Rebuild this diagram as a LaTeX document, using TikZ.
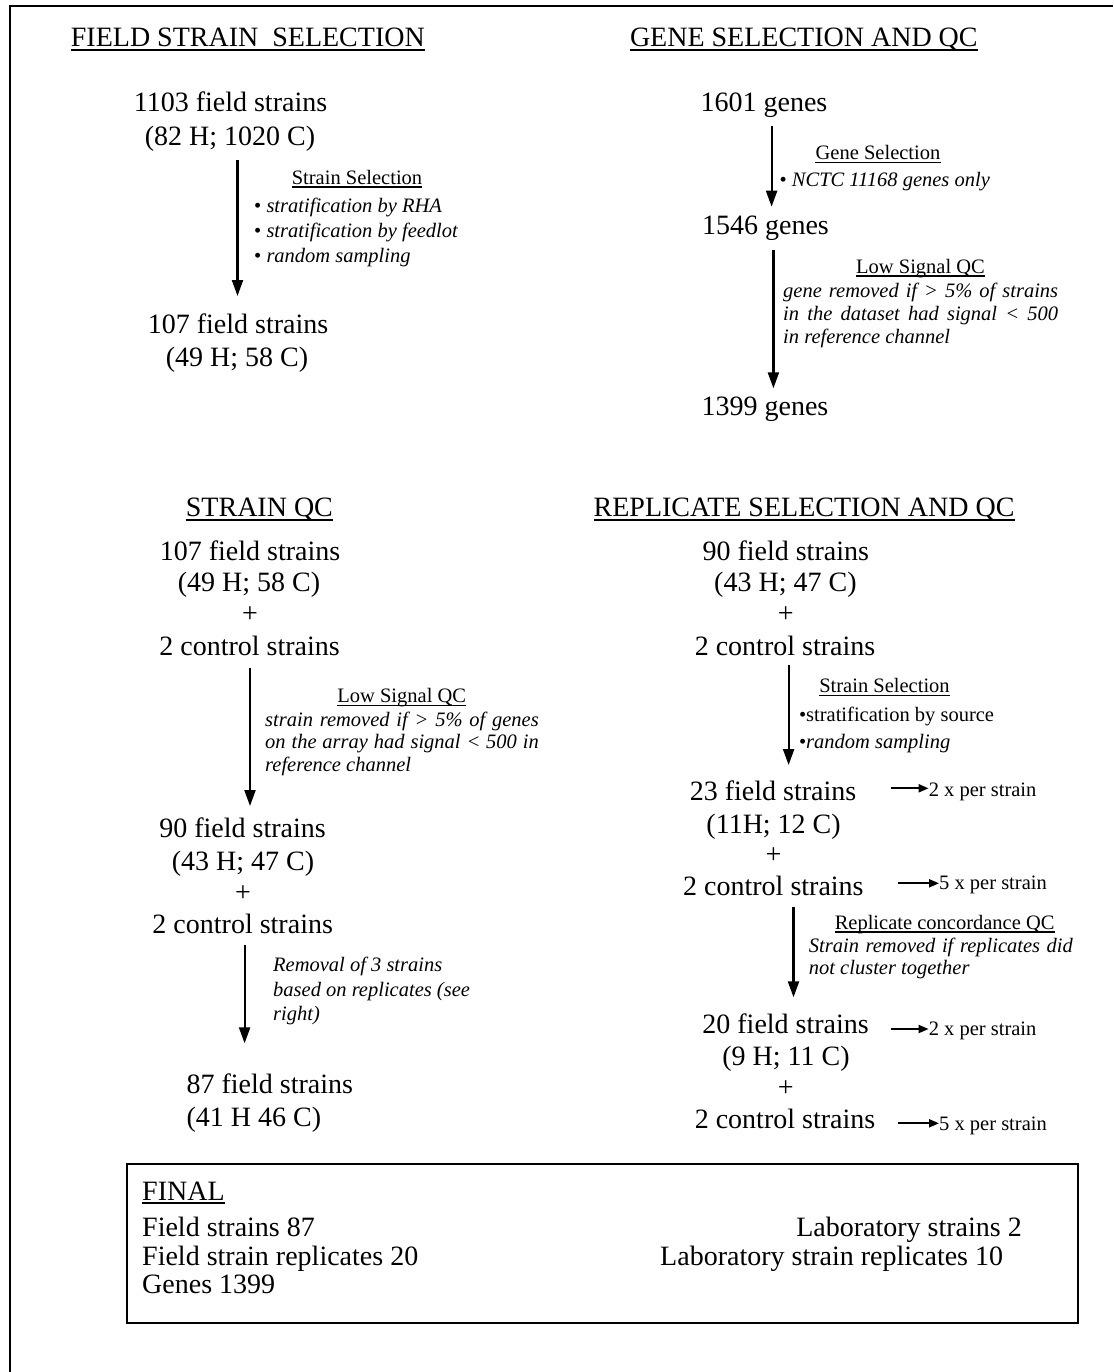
\documentclass[tikz,border=0pt]{standalone}
\usepackage{fontspec}
\setmainfont{Liberation Serif}
\usetikzlibrary{arrows.meta}
\tikzset{
  big/.style={font=\fontsize{28}{34}\selectfont, inner sep=0pt, anchor=base},
  head/.style={font=\fontsize{28}{34}\selectfont, inner sep=0pt, anchor=base west},
  small/.style={font=\fontsize{20.5}{25}\selectfont, inner sep=0pt, anchor=base},
  smallit/.style={font=\fontsize{20.5}{25}\selectfont\itshape, inner sep=0pt, anchor=base west},
  arr/.style={line width=2.2pt, -{Triangle[length=16pt,width=11pt]}},
  sarr/.style={line width=2pt, -{Triangle[length=10pt,width=8pt]}},
  frame/.style={line width=2.2pt},
}
\newcommand\ulthis[3]{\draw[line width=#3] ([yshift=-#2]#1.base west) -- ([yshift=-#2]#1.base east);}
\begin{document}
\begin{tikzpicture}[x=1pt,y=-1pt]
\useasboundingbox (0,0) rectangle (1113,1372);
% outer frame (left and top)
\coordinate (fr1) at (10,1372);
\coordinate (fr2) at (10,5.8);
\coordinate (fr3) at (1113,5.8);
\draw[frame] (fr1) -- (fr2) -- (fr3);

% ---------- FIELD STRAIN SELECTION ----------
\node[head] (h1) at (70.7,47) {FIELD STRAIN\ \ SELECTION};
\ulthis{h1}{3.5pt}{2pt}
\node[big] (a1) at (230.5,111.7) {1103 field strains};
\node[big] (a2) at (230,145.7) {(82 H; 1020 C)};
\coordinate (p1s) at (237.5,160);
\coordinate (p1e) at (237.5,296);
\draw[arr] (p1s) -- (p1e);
\node[small] (l1) at (357,184.3) {Strain Selection};
\ulthis{l1}{2.7pt}{1.3pt}
\node[smallit] (l1a) at (254,212.7) {\upshape• \itshape stratification by RHA};
\node[smallit] (l1b) at (254,237.7) {\upshape• \itshape stratification by feedlot};
\node[smallit] (l1c) at (254,262.7) {\upshape• \itshape random sampling};
\node[big] (a3) at (238,333.3) {107 field strains};
\node[big] (a4) at (237,366.7) {(49 H; 58 C)};

% ---------- GENE SELECTION AND QC ----------
\node[head] (h2) at (629.8,47) {GENE SELECTION AND QC};
\ulthis{h2}{3.5pt}{2pt}
\node[big] (b1) at (764,111.7) {1601 genes};
\coordinate (p2s) at (771.6,126);
\coordinate (p2e) at (771.6,206.7);
\draw[arr] (p2s) -- (p2e);
\node[small] (l2) at (878,160) {Gene Selection};
\ulthis{l2}{2.7pt}{1.3pt}
\node[smallit] (l2a) at (779.4,186.7) {\upshape• \itshape NCTC 11168 genes only};
\node[big] (b2) at (765.5,235) {1546 genes};
\coordinate (p3s) at (773.4,250);
\coordinate (p3e) at (773.4,388.3);
\draw[arr] (p3s) -- (p3e);
\node[small] (l3) at (920.5,273.3) {Low Signal QC};
\ulthis{l3}{2.7pt}{1.3pt}
\node[smallit] (l3a) at (783,297.7) {\makebox[275pt][s]{gene removed if > 5\% of strains}};
\node[smallit] (l3b) at (783,320.7) {\makebox[275pt][s]{in the dataset had signal < 500}};
\node[smallit] (l3c) at (783,343.3) {in reference channel};
\node[big] (b3) at (765,415) {1399 genes};

% ---------- STRAIN QC ----------
\node[head] (h3) at (185.7,516) {STRAIN QC};
\ulthis{h3}{3.5pt}{2pt}
\node[big] (c1) at (250,560) {107 field strains};
\node[big] (c2) at (249,591.7) {(49 H; 58 C)};
\node[big,anchor=center] (c3) at (250,615) {+};
\node[big] (c4) at (249.6,655) {2 control strains};
\coordinate (p4s) at (250,668);
\coordinate (p4e) at (250,806);
\draw[arr] (p4s) -- (p4e);
\node[small] (l4) at (401.7,702.7) {Low Signal QC};
\ulthis{l4}{2.7pt}{1.3pt}
\node[smallit] (l4a) at (265,726.7) {\makebox[273.6pt][s]{strain removed if > 5\% of genes}};
\node[smallit] (l4b) at (265,748.3) {\makebox[273.6pt][s]{on the array had signal < 500 in}};
\node[smallit] (l4c) at (265,771) {reference channel};
\node[big] (c5) at (242.5,837.3) {90 field strains};
\node[big] (c6) at (243,870) {(43 H; 47 C)};
\node[big,anchor=center] (c7) at (243,893.3) {+};
\node[big] (c8) at (242.7,933.3) {2 control strains};
\coordinate (p5s) at (244.6,945);
\coordinate (p5e) at (244.6,1043.3);
\draw[arr] (p5s) -- (p5e);
\node[smallit] (l5a) at (273,971.7) {Removal of 3 strains};
\node[smallit] (l5b) at (273,996.7) {based on replicates (see};
\node[smallit] (l5c) at (273,1020) {right)};
\node[big,anchor=base west] (c9) at (186.4,1093.3) {87 field strains};
\node[big,anchor=base west] (c10) at (186.4,1126.7) {(41 H 46 C)};

% ---------- REPLICATE SELECTION AND QC ----------
\node[head] (h4) at (593.5,516) {REPLICATE SELECTION AND QC};
\ulthis{h4}{3.5pt}{2pt}
\node[big] (d1) at (785.7,560) {90 field strains};
\node[big] (d2) at (785.4,591.7) {(43 H; 47 C)};
\node[big,anchor=center] (d3) at (785.7,615) {+};
\node[big] (d4) at (785,655) {2 control strains};
\coordinate (p6s) at (788.6,665);
\coordinate (p6e) at (788.6,765);
\draw[arr] (p6s) -- (p6e);
\node[small] (l6) at (884.5,692.7) {Strain Selection};
\ulthis{l6}{2.7pt}{1.3pt}
\node[small,anchor=base west] (l6a) at (798.8,721.7) {•stratification by source};
\node[small,anchor=base west] (l6b) at (798.8,748.3) {•\textit{random sampling}};
\node[big] (d5) at (773,800) {23 field strains};
\node[small,anchor=base west] (r1) at (928.6,796) {2 x per strain};
\coordinate (q1) at (890.5,788.3);
\draw[sarr] (q1) -- (q1 -| r1.west);
\node[big] (d6) at (773.6,833.3) {(11H; 12 C)};
\node[big,anchor=center] (d7) at (773.4,856) {+};
\node[big] (d8) at (773.4,895) {2 control strains};
\node[small,anchor=base west] (r2) at (939,889.3) {5 x per strain};
\coordinate (q2) at (897.6,883.3);
\draw[sarr] (q2) -- (q2 -| r2.west);
\coordinate (p7s) at (793.5,907.3);
\coordinate (p7e) at (793.5,997.3);
\draw[arr] (p7s) -- (p7e);
\node[small] (l7) at (944.6,929.3) {Replicate concordance QC};
\ulthis{l7}{2.7pt}{1.3pt}
\node[smallit] (l7a) at (808.7,952.7) {\makebox[264pt][s]{Strain removed if replicates did}};
\node[smallit] (l7b) at (808.7,974) {not cluster together};
\node[big] (d9) at (785.6,1033.3) {20 field strains};
\node[small,anchor=base west] (r3) at (928.6,1035.7) {2 x per strain};
\coordinate (q3) at (890.5,1029);
\draw[sarr] (q3) -- (q3 -| r3.west);
\node[big] (d10) at (786,1065) {(9 H; 11 C)};
\node[big,anchor=center] (d11) at (785.7,1088.3) {+};
\node[big] (d12) at (785,1128.3) {2 control strains};
\node[small,anchor=base west] (r4) at (939,1130) {5 x per strain};
\coordinate (q4) at (897.6,1123.3);
\draw[sarr] (q4) -- (q4 -| r4.west);

% ---------- FINAL ----------
\node[draw, line width=2pt, inner sep=0pt, anchor=north west, minimum width=950.7pt, minimum height=158.4pt] (fin) at (126.3,1163.3) {};
\node[big,anchor=base west] (f0) at (142,1200) {FINAL};
\ulthis{f0}{3.3pt}{1.8pt}
\node[big,anchor=base west] (f1) at (142,1236.7) {Field strains 87};
\node[big,anchor=base west] (f2) at (142,1265) {Field strain replicates 20};
\node[big,anchor=base west] (f3) at (142,1293.3) {Genes 1399};
\node[big,anchor=base east] (f4) at (1022,1236.7) {Laboratory strains 2};
\node[big,anchor=base west] (f5) at (660,1265) {Laboratory strain replicates 10};
\end{tikzpicture}
\end{document}
